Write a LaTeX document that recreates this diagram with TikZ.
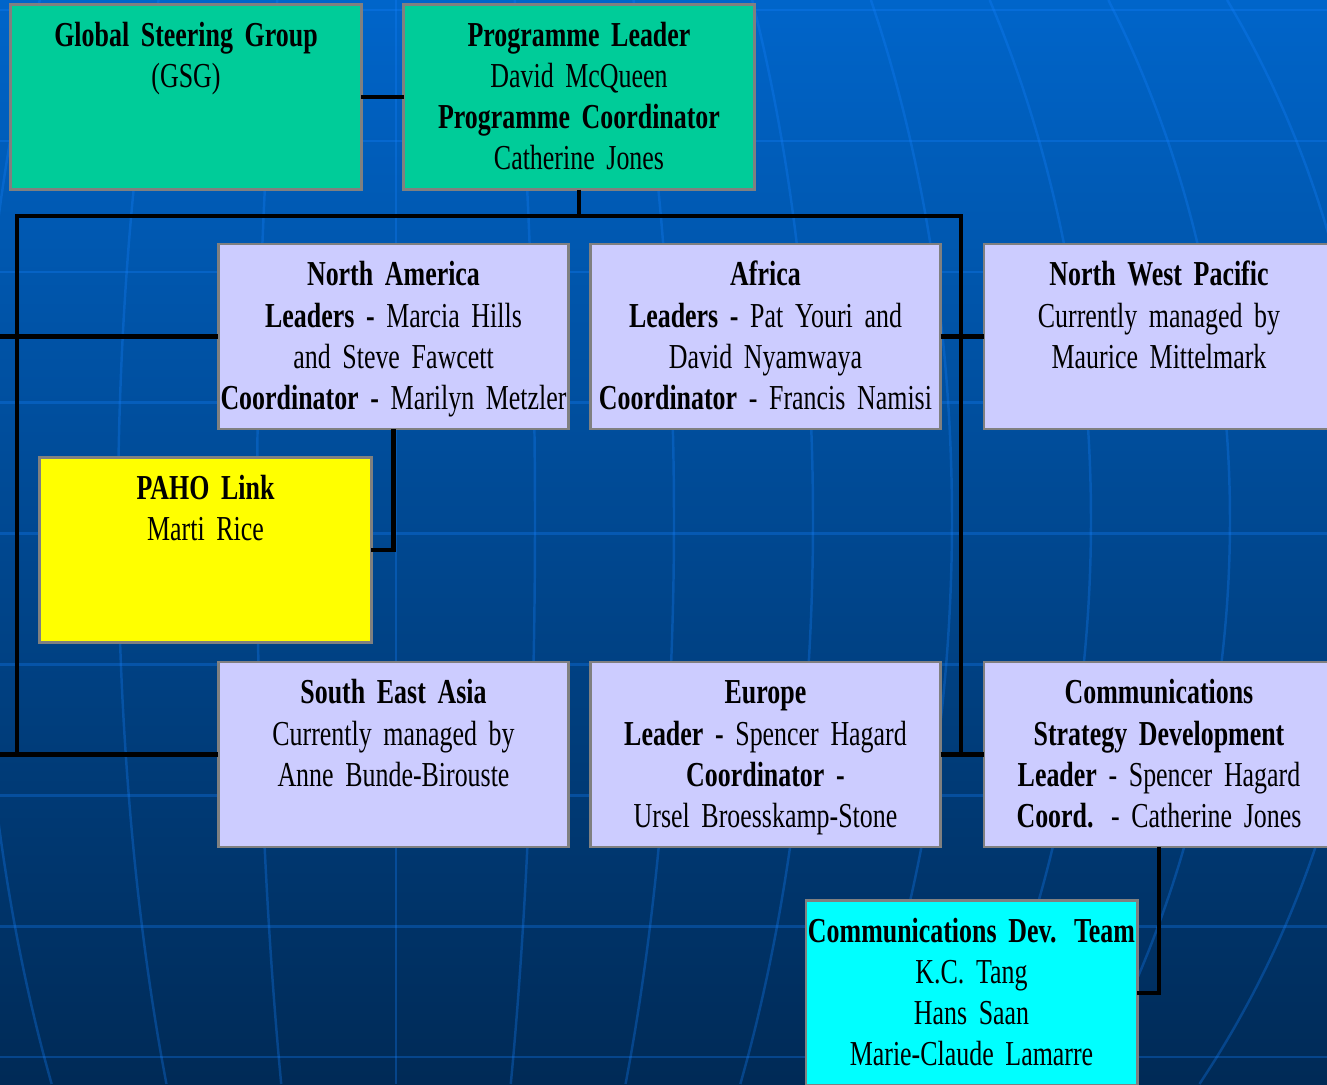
\documentclass[tikz,border=0pt]{standalone}
\usepackage{fontspec}
\setmainfont{Liberation Serif}[FakeStretch=0.74]
\definecolor{bgtop}{RGB}{0,101,202}
\definecolor{bgmid}{RGB}{0,78,156}
\definecolor{bgbot}{RGB}{0,42,86}
\definecolor{gridblue}{RGB}{20,130,255}
\definecolor{steergreen}{HTML}{00CC99}
\definecolor{regionblue}{HTML}{CCCCFF}
\definecolor{linkyellow}{HTML}{FFFF00}
\definecolor{teamcyan}{HTML}{00FFFF}
\definecolor{boxgray}{HTML}{808080}

\begin{document}
\begin{tikzpicture}[x=0.01cm, y=-0.01cm,
  unit/.style={draw=boxgray, line width=0.8pt, outer sep=0pt, inner xsep=0pt, inner ysep=0.19cm,
    execute at begin node=\centering, text height=0.23cm, text depth=1.24cm,
    font={\fontsize{9.96pt}{11.67pt}\selectfont\setlength{\spaceskip}{1.9pt plus 0.3pt minus 0.3pt}}},
  widebox/.style={minimum width=3.5cm, text width=3.46cm},
  narrowbox/.style={minimum width=3.31cm, text width=3.27cm},
  link/.style={line width=1.2pt},
  globeline/.style={gridblue, opacity=0.3, line width=0.7pt}]
\useasboundingbox (0,0) rectangle (1327,1084);
\clip (0,0) rectangle (1327,1084);

\shade[top color=bgtop, middle color=bgmid, bottom color=bgbot] (0,0) rectangle (1327,1084);
\foreach \i in {0,...,8}
  \draw[globeline] (0,{10+130.9*\i}) -- (1327,{10+130.9*\i});
\foreach \k in {-3,...,7}
  \draw[globeline] plot[domain=0:1084, samples=40, smooth] ({396+(\k)*139*sqrt(1-((\x-520)/1000)^2)}, \x);

\node[unit, widebox, fill=steergreen] (gsg) at (186,97) {\textbf{Global Steering Group}\\(GSG)};
\node[unit, widebox, fill=steergreen] (prog) at (579,97) {\textbf{Programme Leader}\\David McQueen\\\textbf{Programme Coordinator}\\Catherine Jones};

\node[unit, widebox, fill=regionblue] (na) at (393.5,336.5) {\textbf{North America}\\\textbf{Leaders -} Marcia Hills\\and Steve Fawcett\\\textbf{Coordinator -} Marilyn Metzler};
\node[unit, widebox, fill=regionblue] (africa) at (765.5,336.5) {\textbf{Africa}\\\textbf{Leaders -} Pat Youri and\\David Nyamwaya\\\textbf{Coordinator} - Francis Namisi};
\node[unit, widebox, fill=regionblue] (nwp) at (1159,336.5) {\textbf{North West Pacific}\\Currently managed by\\Maurice Mittelmark};

\node[unit, narrowbox, fill=linkyellow] (paho) at (205.5,550) {\textbf{PAHO Link}\\Marti Rice};

\node[unit, widebox, fill=regionblue] (sea) at (393.5,754.5) {\textbf{South East Asia}\\Currently managed by\\Anne Bunde-Birouste};
\node[unit, widebox, fill=regionblue] (europe) at (765.5,754.5) {\textbf{Europe}\\\textbf{Leader -} Spencer Hagard\\\textbf{Coordinator -}\\Ursel Broesskamp-Stone};
\node[unit, widebox, fill=regionblue] (comms) at (1159,754.5) {\textbf{Communications}\\\textbf{Strategy Development}\\\textbf{Leader} - Spencer Hagard\\\textbf{Coord.} - Catherine Jones};

\node[unit, narrowbox, fill=teamcyan] (team) at (971.5,993) {\textbf{Communications Dev. Team}\\K.C. Tang\\Hans Saan\\Marie-Claude Lamarre};

\coordinate (busl) at (17,216);
\coordinate (busr) at (961,216);
\coordinate (busbl) at (17,754.5);
\coordinate (busbr) at (961,754.5);
\coordinate (naedge) at (0,336.5);
\coordinate (seaedge) at (0,754.5);

\draw[link] (gsg) -- (prog);
\draw[link] (prog.south) -- (prog.south |- busl);
\draw[link] (busbl) -- (busl) -- (busr) -- (busbr);
\draw[link] (naedge) -- (na);
\draw[link] (africa) -- (nwp);
\draw[link] (na.south) |- (paho.east);
\draw[link] (seaedge) -- (sea);
\draw[link] (europe) -- (comms);
\draw[link] (comms.south) |- (team.east);
\end{tikzpicture}
\end{document}
